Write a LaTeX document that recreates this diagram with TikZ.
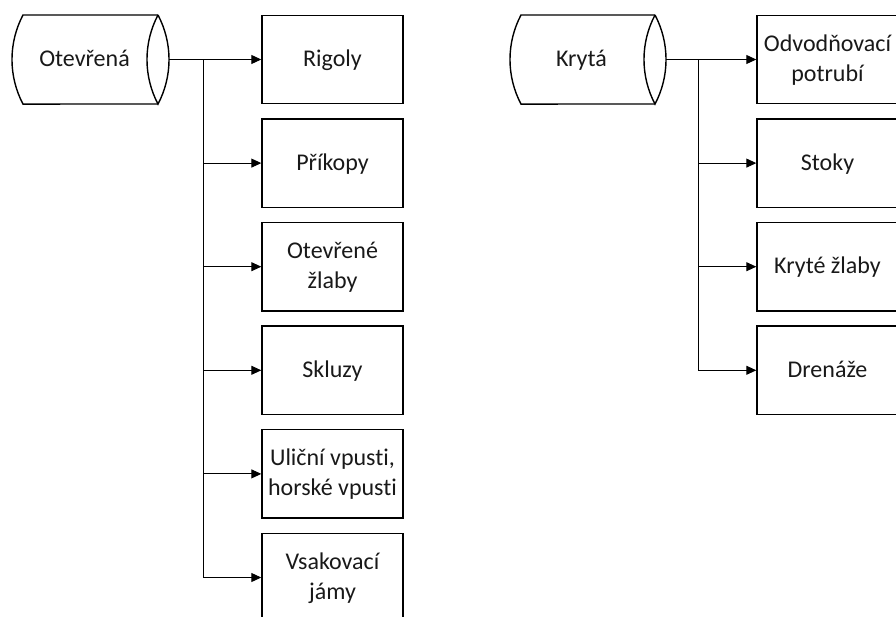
\documentclass[tikz,border=0pt]{standalone}
\usepackage{fontspec}
\setmainfont{Carlito}[Ligatures={NoCommon}]
\usetikzlibrary{arrows.meta}
\newcommand\lnst{\rule[-3pt]{0pt}{21pt}}
\begin{document}
\begin{tikzpicture}[x=1pt,y=-1pt,
  box/.style={draw=black, line width=1.4pt, minimum width=141pt, minimum height=88.5pt, inner sep=0pt, align=center, font=\fontsize{24}{30}\selectfont, text=black!90},
  cyltext/.style={font=\fontsize{24}{30}\selectfont, text=black!90, inner sep=0pt},
  cylline/.style={draw=black, line width=1.4pt},
  conn/.style={draw=black, line width=1pt, -{Triangle[length=10pt,width=9pt]}},
  trunk/.style={draw=black, line width=1pt}]
\useasboundingbox (0,0) rectangle (896,617);
% left cylinder
\draw[cylline] (158,15) -- (23,15) arc[start angle=152.2, end angle=207.8, radius=95.5pt] -- (158,104);
\draw[cylline] (158,15) arc[start angle=27.8, end angle=-27.8, radius=95.5pt]
               arc[start angle=207.8, end angle=152.2, radius=95.5pt];
\node[cyltext] (otv) at (84.5,59.5) {\lnst Otevřená};
\coordinate (otvE) at (169,59.5);
\coordinate (trL) at (203,59.5);
% right cylinder
\draw[cylline] (655,15) -- (521,15) arc[start angle=152.2, end angle=207.8, radius=95.5pt] -- (655,104);
\draw[cylline] (655,15) arc[start angle=27.8, end angle=-27.8, radius=95.5pt]
               arc[start angle=207.8, end angle=152.2, radius=95.5pt];
\node[cyltext] (kry) at (581.5,59.5) {\lnst Krytá};
\coordinate (kryE) at (666,59.5);
\coordinate (trR) at (698,59.5);
% left boxes
\node[box] (b1) at (332.5,59.5) {\lnst Rigoly};
\node[box] (b2) at (332.5,163.1) {\lnst Příkopy};
\node[box] (b3) at (332.5,266.7) {\lnst Otevřené\\\lnst žlaby};
\node[box] (b4) at (332.5,370.3) {\lnst Skluzy};
\node[box] (b5) at (332.5,473.9) {\lnst Uliční vpusti,\\\lnst horské vpusti};
\node[box] (b6) at (332.5,577.5) {\lnst Vsakovací\\\lnst jámy};
% right boxes
\node[box] (r1) at (827.5,59.5) {\lnst Odvodňovací\\\lnst potrubí};
\node[box] (r2) at (827.5,163.1) {\lnst Stoky};
\node[box] (r3) at (827.5,266.7) {\lnst Kryté žlaby};
\node[box] (r4) at (827.5,370.3) {\lnst Drenáže};
% left connectors
\draw[trunk, line width=1.6pt] (otvE) -- (trL);
\draw[conn] (otvE) -- (b1.west);
\foreach \b in {b2,b3,b4,b5,b6}{\draw[conn] (trL) |- (\b.west);}
% right connectors
\draw[trunk, line width=1.6pt] (kryE) -- (trR);
\draw[conn] (kryE) -- (r1.west);
\foreach \b in {r2,r3,r4}{\draw[conn] (trR) |- (\b.west);}
\end{tikzpicture}
\end{document}
